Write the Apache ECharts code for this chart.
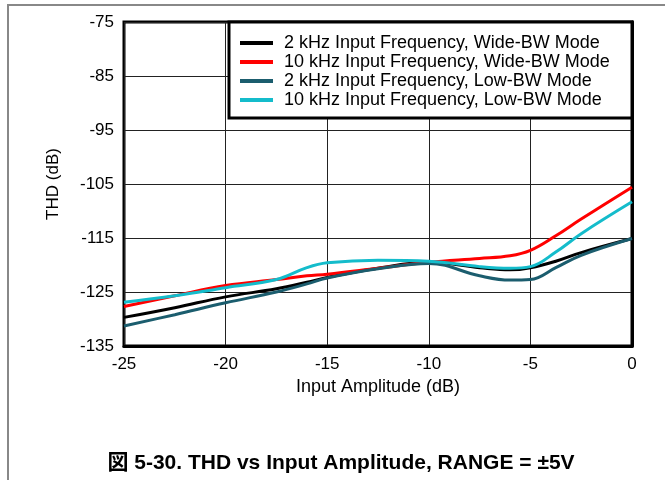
<!DOCTYPE html>
<html>
<head>
<meta charset="utf-8">
<script src="https://cdn.jsdelivr.net/npm/echarts@6/dist/echarts.min.js"></script>
<style>html,body{margin:0;padding:0;background:#fff;}#c{width:665px;height:480px;}</style>
</head>
<body>
<div id="c"></div>
<script>
var xVals = [-25, -22.5, -20, -17.5, -16, -15, -12.5, -10, -7.5, -6, -5, -3.75, -2.5, 0];
var black2kWide = [-129.7, -127.9, -125.9, -124.4, -123.2, -122.3, -120.6, -119.5, -120.5, -120.9, -120.5, -119.3, -117.7, -115.1];
var red10kWide  = [-127.7, -125.7, -123.8, -122.7, -122.0, -121.7, -120.6, -119.5, -118.8, -118.3, -117.3, -114.6, -111.5, -105.6];
var teal2kLow   = [-131.3, -129.2, -127.0, -125.0, -123.5, -122.4, -120.7, -119.7, -122.0, -122.8, -122.7, -120.5, -118.2, -115.1];
var cyan10kLow  = [-126.9, -125.7, -124.2, -122.7, -120.5, -119.6, -119.1, -119.3, -120.3, -120.6, -120.3, -117.6, -114.2, -108.3];
var seriesNames = [
  '2 kHz Input Frequency, Wide-BW Mode',
  '10 kHz Input Frequency, Wide-BW Mode',
  '2 kHz Input Frequency, Low-BW Mode',
  '10 kHz Input Frequency, Low-BW Mode'
];
var seriesColors = ['#000000', '#ff0000', '#1b5d6e', '#14bccb'];
var seriesData = [black2kWide, red10kWide, teal2kLow, cyan10kLow];

var FONT = '"Liberation Sans", Arial, "Noto Sans CJK JP", sans-serif';

function pairs(ys) {
  return xVals.map(function (x, i) { return [x, ys[i]]; });
}

var chart = echarts.init(document.getElementById('c'), null, {renderer: 'canvas'});
var option = {
  animation: false,
  backgroundColor: '#fff',
  textStyle: {fontFamily: FONT},
  grid: {
    left: 124, right: 33, top: 22, bottom: 134,
    show: true, borderColor: '#000', borderWidth: 3, backgroundColor: 'transparent',
    containLabel: false
  },
  xAxis: {
    type: 'value', min: -25, max: 0, interval: 5,
    name: 'Input Amplitude (dB)', nameLocation: 'middle', nameGap: 31,
    nameTextStyle: {fontFamily: FONT, fontSize: 18, color: '#000'},
    axisLine: {show: true, lineStyle: {color: '#000', width: 3}},
    axisTick: {show: false},
    axisLabel: {fontFamily: FONT, fontSize: 17, color: '#000', margin: 10},
    splitLine: {show: true, lineStyle: {color: '#222', width: 1}}
  },
  yAxis: {
    type: 'value', min: -135, max: -75, interval: 10,
    name: 'THD (dB)', nameLocation: 'middle', nameGap: 62, nameRotate: 90,
    nameTextStyle: {fontFamily: FONT, fontSize: 17, color: '#000'},
    axisLine: {show: true, lineStyle: {color: '#000', width: 3}},
    axisTick: {show: false},
    axisLabel: {fontFamily: FONT, fontSize: 17, color: '#000', margin: 10},
    splitLine: {show: true, lineStyle: {color: '#222', width: 1}}
  },
  legend: {
    orient: 'vertical', left: 240, top: 34, padding: 0, itemGap: 1,
    itemWidth: 33, itemHeight: 4, icon: 'rect', z: 20,
    textStyle: {fontFamily: FONT, fontSize: 18, color: '#000', lineHeight: 15, padding: [0, 0, 0, 6]},
    data: seriesNames
  },
  graphic: [
    {type: 'rect', z: 10, shape: {x: 229, y: 22, width: 403, height: 96},
     style: {fill: '#fff', stroke: '#000', lineWidth: 3}},
    {type: 'polyline', z: 10, shape: {points: [[665, 5], [8, 5], [8, 480]]},
     style: {fill: null, stroke: '#888', lineWidth: 2}},
    {type: 'text', z: 10, x: 341, y: 463,
     style: {text: '図 5-30. THD vs Input Amplitude, RANGE = ±5V', fontFamily: FONT, fontSize: 21,
             fontWeight: 'bold', fill: '#000', textAlign: 'center', textVerticalAlign: 'middle'}}
  ],
  series: seriesNames.map(function (n, i) {
    return {
      name: n, type: 'line', smooth: 0.4, showSymbol: false, z: 3,
      color: seriesColors[i],
      lineStyle: {color: seriesColors[i], width: 3},
      data: pairs(seriesData[i])
    };
  })
};
chart.setOption(option);
</script>
</body>
</html>
